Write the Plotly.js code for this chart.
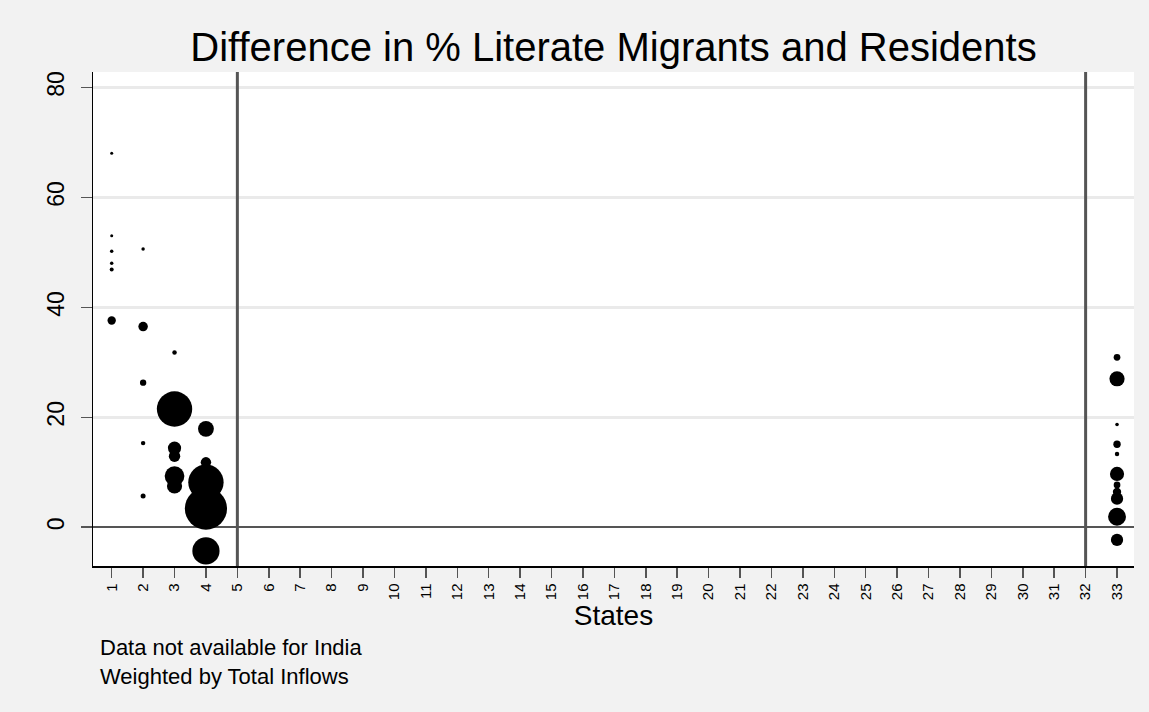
<!DOCTYPE html>
<html>
<head>
<meta charset="utf-8">
<script src="https://cdn.plot.ly/plotly-3.0.1.min.js"></script>
<style>
  html, body { margin: 0; padding: 0; background: #f2f2f2; }
  #chart { width: 1149px; height: 712px; }
</style>
</head>
<body>
<div id="chart"></div>
<script>
// State index of each district-level observation
const states = [
  1, 1, 1, 1, 1, 1,
  2, 2, 2, 2, 2,
  3, 3, 3, 3, 3, 3,
  4, 4, 4, 4, 4,
  33, 33, 33, 33, 33, 33, 33, 33, 33, 33, 33
];

// Difference in % literate (migrants minus residents)
const literacyGap = [
  68.0, 53.0, 50.2, 48.0, 46.9, 37.6,
  50.6, 36.5, 26.3, 15.3, 5.7,
  31.8, 21.5, 14.4, 12.9, 9.3, 7.5,
  17.9, 11.8, 8.2, 3.4, -4.3,
  30.9, 27.0, 18.7, 15.1, 13.3, 9.7, 7.7, 6.4, 5.2, 1.9, -2.3
];

// Total inflows used as bubble weights
const totalInflows = [
  9, 9, 12, 12, 16, 70,
  12, 90, 40, 20, 25,
  20, 1250, 175, 130, 390, 230,
  250, 110, 1250, 1780, 740,
  45, 230, 13, 55, 20, 200, 45, 70, 150, 320, 150
];

// Tick positions / labels
const stateTicks = Array.from({length: 33}, (_, i) => i + 1);
const stateTickText = stateTicks.map(String);
const yTicks = [0, 20, 40, 60, 80];

// Vertical reference lines
const refLines = [5, 32];

const FONT = 'Liberation Sans, Arial, Helvetica, sans-serif';
const LINE = '#555555';

const trace = {
  type: 'scatter',
  mode: 'markers',
  x: states,
  y: literacyGap,
  marker: {
    size: totalInflows,
    sizemode: 'area',
    sizeref: 2,
    color: '#000000',
    line: { width: 0 },
    opacity: 1
  },
  hoverinfo: 'x+y',
  showlegend: false
};

const layout = {
  width: 1149,
  height: 712,
  paper_bgcolor: '#f2f2f2',
  plot_bgcolor: '#ffffff',
  margin: { l: 93, r: 15, t: 72, b: 146 },
  font: { family: FONT, color: '#000000' },
  title: {
    text: 'Difference in % Literate Migrants and Residents',
    font: { family: FONT, size: 40, color: '#000000' },
    xref: 'paper', x: 0.5, xanchor: 'center',
    yref: 'container', y: 1 - 47 / 712, yanchor: 'middle'
  },
  xaxis: {
    range: [0.405, 33.54],
    tickmode: 'array',
    tickvals: stateTicks,
    ticktext: stateTickText,
    tickangle: -90,
    tickfont: { family: FONT, size: 15, color: '#000000' },
    ticks: 'outside',
    ticklen: 10,
    tickwidth: 1.5,
    tickcolor: LINE,
    showgrid: false,
    zeroline: false,
    showline: true,
    linecolor: '#000000',
    linewidth: 1.5,
    title: {
      text: 'States',
      font: { family: FONT, size: 28, color: '#000000' },
      standoff: 4
    }
  },
  yaxis: {
    range: [-7.05, 82.8],
    tickmode: 'array',
    tickvals: yTicks,
    tickangle: -90,
    tickfont: { family: FONT, size: 23, color: '#000000' },
    ticks: 'outside',
    ticklen: 11,
    tickwidth: 1.5,
    tickcolor: LINE,
    ticklabelstandoff: 7,
    showgrid: true,
    gridcolor: '#eaeaea',
    gridwidth: 2.5,
    zeroline: true,
    zerolinecolor: LINE,
    zerolinewidth: 2.5,
    showline: true,
    linecolor: '#000000',
    linewidth: 1.5
  },
  shapes: refLines.map(v => ({
    type: 'line',
    xref: 'x', yref: 'paper',
    x0: v, x1: v, y0: 0, y1: 1,
    line: { color: LINE, width: 3 },
    layer: 'above'
  })),
  annotations: [
    {
      text: 'Data not available for India',
      xref: 'paper', yref: 'paper',
      x: 0.0048, y: -0.164,
      xanchor: 'left', yanchor: 'middle',
      showarrow: false,
      font: { family: FONT, size: 22, color: '#000000' }
    },
    {
      text: 'Weighted by Total Inflows',
      xref: 'paper', yref: 'paper',
      x: 0.0048, y: -0.223,
      xanchor: 'left', yanchor: 'middle',
      showarrow: false,
      font: { family: FONT, size: 22, color: '#000000' }
    }
  ]
};

Plotly.newPlot('chart', [trace], layout, { displayModeBar: false, staticPlot: true });
</script>
</body>
</html>
